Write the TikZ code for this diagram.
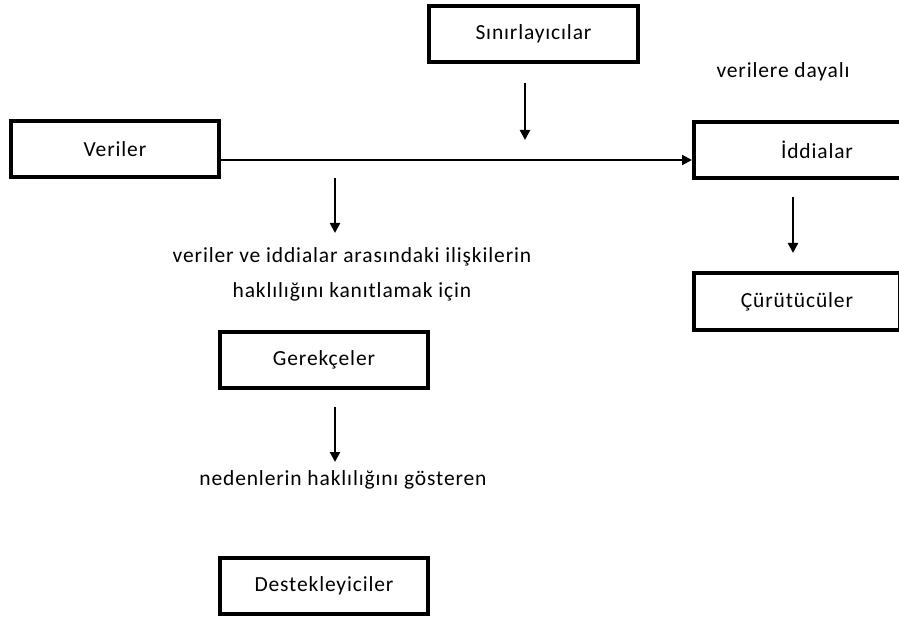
\documentclass[tikz,border=0pt]{standalone}
\usepackage{fontspec}
\setmainfont{Carlito}[LetterSpace=4]
\usepackage{tikz}
\usetikzlibrary{arrows.meta,positioning,calc}

\begin{document}
\begin{tikzpicture}[x=1pt, y=-1pt,
  box/.style={draw, line width=4pt, minimum height=56pt, inner sep=0pt,
    font=\fontsize{21.5}{24}\selectfont},
  lbl/.style={font=\fontsize{21.5}{35}\selectfont, align=center},
  arr/.style={line width=2.2pt, -{Triangle[length=10pt, width=10pt]}}]
  % Page size
  \useasboundingbox (0,0) rectangle (899,620);
  \clip (0,0) rectangle (899,620);

  % Boxes
  \node[box, minimum width=208pt] (veriler) at (115,149.5) {Veriler};
  \node[box, minimum width=209pt] (sinir) at (533.5,34) {Sınırlayıcılar};
  \node[box, minimum width=246pt] (iddia) at (817,150) {İddialar};
  \node[box, minimum width=206pt] (curut) at (797,301.5) {Çürütücüler};
  \node[box, minimum width=208pt] (gerekce) at (324,359.5) {Gerekçeler};
  \node[box, minimum width=208pt] (destek) at (324,586) {Destekleyiciler};

  % Texts
  \node[lbl] (dayali) at (783,72) {verilere dayalı};
  \node[lbl] (iliski) at (352,274.5) {veriler ve iddialar arasındaki ilişkilerin\\haklılığını kanıtlamak için};
  \node[lbl] (neden) at (343,480) {nedenlerin haklılığını gösteren};

  % Arrow ends
  \coordinate (s1) at (525,83);   \coordinate (s2) at (525,140);
  \coordinate (v1) at (335,178);  \coordinate (v2) at (335,233);
  \coordinate (i1) at (793,197);  \coordinate (i2) at (793,253);
  \coordinate (g1) at (335,407);  \coordinate (g2) at (335,462);

  % Arrows
  \draw[arr] ([yshift=-10.5pt]veriler.east) -- ([yshift=-10pt]iddia.west);
  \draw[arr] (s1) -- (s2);
  \draw[arr] (v1) -- (v2);
  \draw[arr] (i1) -- (i2);
  \draw[arr] (g1) -- (g2);
\end{tikzpicture}
\end{document}
